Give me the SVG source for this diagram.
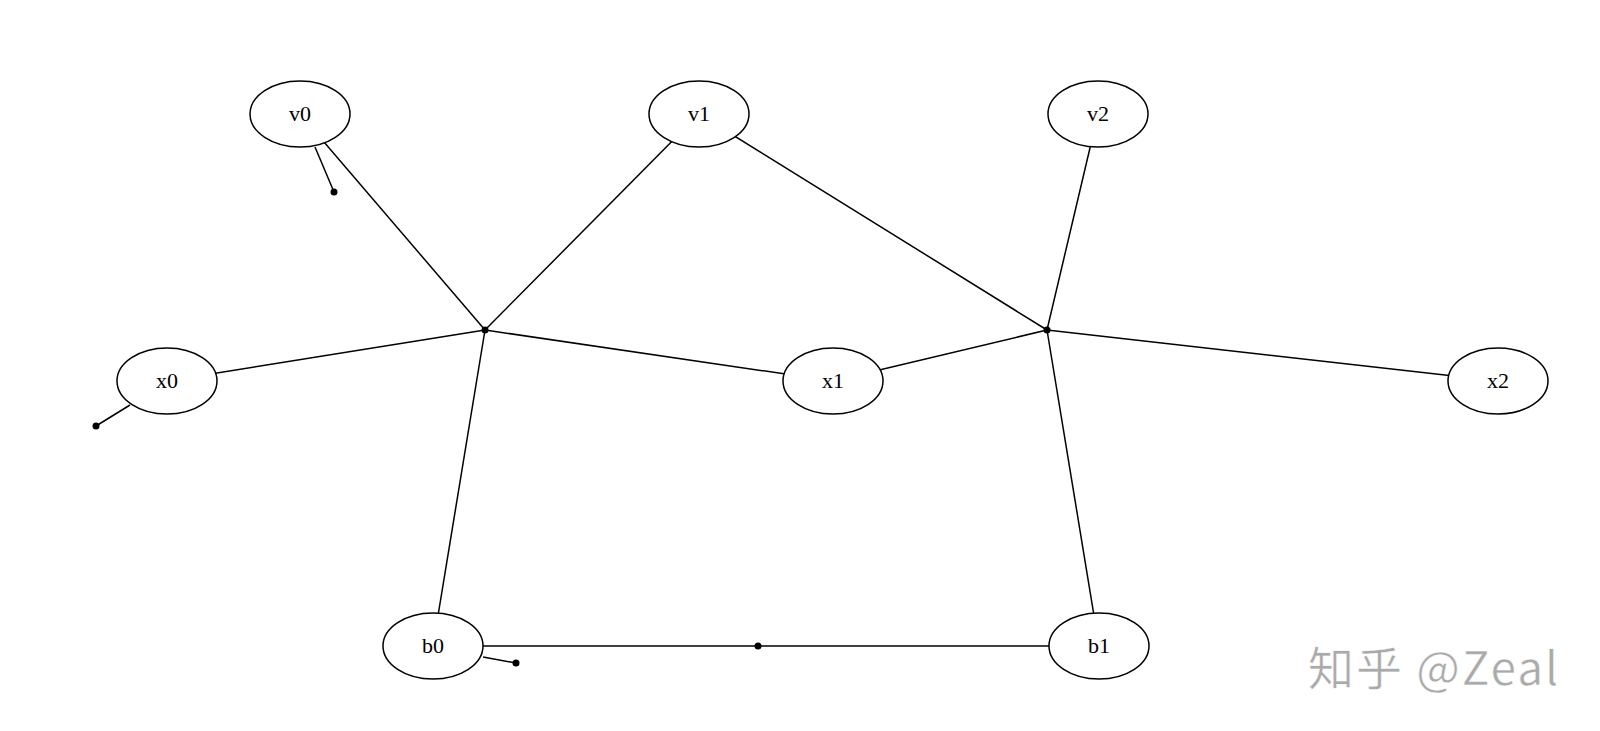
<svg xmlns="http://www.w3.org/2000/svg" width="1600" height="731" viewBox="0 0 1600 731">
<style>
.edge{stroke:#000;stroke-width:1.5;fill:none}
.node ellipse{fill:#fff;stroke:#000;stroke-width:1.5}
.node text{font-family:"Liberation Serif","Times New Roman",serif;font-size:22px;text-anchor:middle;fill:#000}
.dot{fill:#000}
.wm{font-family:"Noto Sans CJK SC","Noto Sans",sans-serif;font-size:46px;letter-spacing:2px;fill:#aaaaaa;stroke:#fff;stroke-width:0.5}
</style>
<rect width="1600" height="731" fill="#fff"/>
<g id="connectors">
<line class="edge" x1="300" y1="114" x2="485" y2="330"/>
<line class="edge" x1="699" y1="114" x2="485" y2="330"/>
<line class="edge" x1="167" y1="381" x2="485" y2="330"/>
<line class="edge" x1="833" y1="381" x2="485" y2="330"/>
<line class="edge" x1="433" y1="646" x2="485" y2="330"/>
<line class="edge" x1="699" y1="114" x2="1047" y2="330"/>
<line class="edge" x1="1098" y1="114" x2="1047" y2="330"/>
<line class="edge" x1="833" y1="381" x2="1047" y2="330"/>
<line class="edge" x1="1498" y1="381" x2="1047" y2="330"/>
<line class="edge" x1="1099" y1="646" x2="1047" y2="330"/>
<line class="edge" x1="433" y1="646" x2="1099" y2="646"/>
<line class="edge" x1="315" y1="147" x2="334" y2="192"/>
<line class="edge" x1="130" y1="405" x2="96" y2="426"/>
<line class="edge" x1="483" y1="657" x2="516" y2="663"/>
<circle class="dot" cx="485" cy="330" r="3.5"/>
<circle class="dot" cx="1047" cy="330" r="3.5"/>
<circle class="dot" cx="758" cy="646" r="3.5"/>
<circle class="dot" cx="334" cy="192" r="3.5"/>
<circle class="dot" cx="96" cy="426" r="3.5"/>
<circle class="dot" cx="516" cy="663" r="3.5"/>
</g>
<g id="v0" class="node"><ellipse cx="300" cy="114" rx="50" ry="33"/><text x="300" y="121">v0</text></g>
<g id="v1" class="node"><ellipse cx="699" cy="114" rx="50" ry="33"/><text x="699" y="121">v1</text></g>
<g id="v2" class="node"><ellipse cx="1098" cy="114" rx="50" ry="33"/><text x="1098" y="121">v2</text></g>
<g id="x0" class="node"><ellipse cx="167" cy="381" rx="50" ry="33"/><text x="167" y="388">x0</text></g>
<g id="x1" class="node"><ellipse cx="833" cy="381" rx="50" ry="33"/><text x="833" y="388">x1</text></g>
<g id="x2" class="node"><ellipse cx="1498" cy="381" rx="50" ry="33"/><text x="1498" y="388">x2</text></g>
<g id="b0" class="node"><ellipse cx="433" cy="646" rx="50" ry="33"/><text x="433" y="653">b0</text></g>
<g id="b1" class="node"><ellipse cx="1099" cy="646" rx="50" ry="33"/><text x="1099" y="653">b1</text></g>
<text class="wm" x="1308" y="685">知乎 @Zeal</text>
</svg>
